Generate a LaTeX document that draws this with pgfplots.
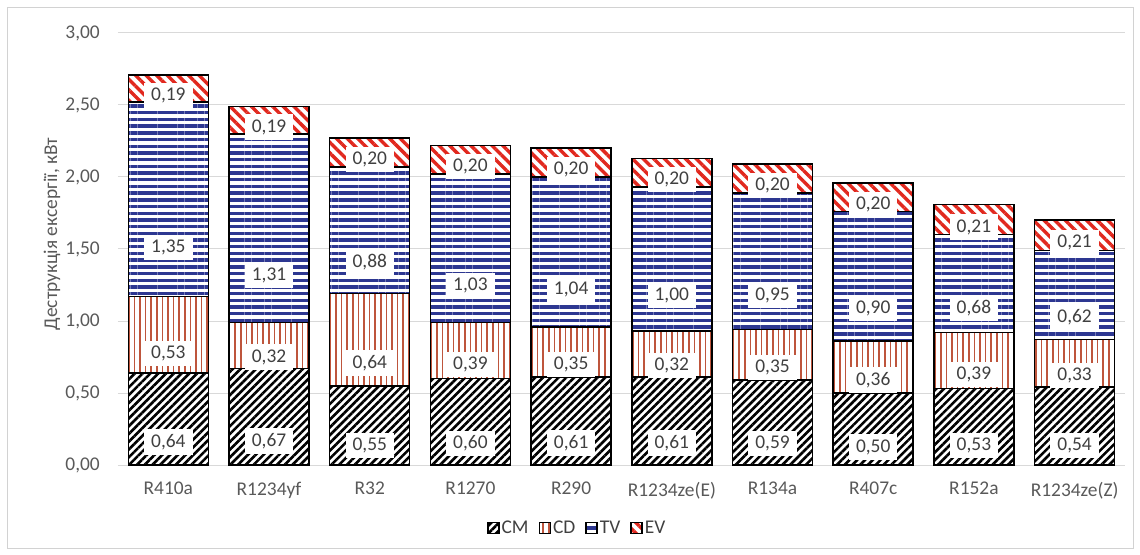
\documentclass[border=0pt]{standalone}
\usepackage{fontspec}
\setmainfont{Carlito}
\usepackage{pgfplots}
\usepackage{pgfplotstable}
\pgfplotsset{compat=1.18}
\usetikzlibrary{patterns.meta}

\definecolor{cdred}{RGB}{190,85,60}
\definecolor{tvblue}{RGB}{45,55,145}
\definecolor{evred}{RGB}{225,40,30}
\definecolor{gridgray}{RGB}{217,217,217}
\definecolor{framegray}{RGB}{210,210,210}
\definecolor{textgray}{RGB}{89,89,89}
\definecolor{labelgray}{RGB}{64,64,64}

% exergy destruction per component, kW
\pgfplotstableread{
x  cm    cd    tv    ev
0  0.64  0.53  1.35  0.19
1  0.67  0.32  1.31  0.19
2  0.55  0.64  0.88  0.20
3  0.60  0.39  1.03  0.20
4  0.61  0.35  1.04  0.20
5  0.61  0.32  1.00  0.20
6  0.59  0.35  0.95  0.20
7  0.50  0.36  0.90  0.20
8  0.53  0.39  0.68  0.21
9  0.54  0.33  0.62  0.21
}\exdata

\newcommand\chartfont{\fontsize{19.5}{22}\selectfont}

\begin{document}
\begin{tikzpicture}
\path[use as bounding box] (-118bp,-90bp) rectangle (1022bp,465bp);
\draw[framegray, line width=1bp] (-110bp,-83bp) rectangle (1015bp,457bp);
\begin{axis}[
  at={(0,0)}, anchor=south west,
  scale only axis, width=1007bp, height=432bp,
  ybar stacked, bar width=80bp,
  xmin=-0.5, xmax=9.5, ymin=0, ymax=3,
  xtick={0,...,9},
  xticklabels={R410a,R1234yf,R32,R1270,R290,R1234ze(E),R134a,R407c,R152a,R1234ze(Z)},
  ytick={0,0.5,...,3},
  ymajorgrids, grid style={gridgray, line width=1bp},
  axis line style={draw=none},
  major tick length=0pt,
  tick label style={font=\chartfont, text=textgray},
  /pgf/number format/.cd, fixed, fixed zerofill, precision=2, use comma, assume math mode=true,
  /pgfplots/.cd,
  yticklabel style={anchor=east, inner sep=0pt, xshift=-18bp},
  xticklabel style={anchor=north, inner sep=0pt, yshift=-17bp},
  ylabel={Деструкція ексергії, кВт},
  ylabel style={at={(axis description cs:-0.0655,0.535)}, anchor=center,
    font=\chartfont, text=textgray},
  legend columns=4,
  legend style={at={(0.456,-0.146)}, anchor=center, draw=none, fill=none,
    font=\chartfont, text=labelgray,
    /tikz/every even column/.append style={column sep=8bp}},
  legend image code/.code={\draw[#1, line width=1.5bp] (0bp,-5.5bp) rectangle (11bp,5.5bp);},
  point meta=rawy,
  visualization depends on={rawy \as \segval},
  nodes near coords={\pgfmathprintnumber[fixed,fixed zerofill,precision=2,use comma,assume math mode=true]{\pgfplotspointmeta}},
  every node near coord/.append style={anchor=center, yshift={-\segval*36bp},
    fill=white, inner xsep=7bp, inner ysep=5bp, text=labelgray,
    font=\chartfont},
]
\addplot[draw=black, line width=1.5bp, fill=white,
  postaction={pattern={Lines[angle=45,distance=5.5bp,line width=2.6bp]}, pattern color=black}]
  table[x=x,y=cm]{\exdata};
\addplot[draw=black, line width=1.5bp, fill=white,
  postaction={pattern={Lines[angle=90,distance=5.6bp,line width=1.5bp]}, pattern color=cdred}]
  table[x=x,y=cd]{\exdata};
\addplot[draw=black, line width=1.5bp, fill=white,
  postaction={pattern={Lines[angle=0,distance=6.7bp,line width=3.4bp]}, pattern color=tvblue}]
  table[x=x,y=tv]{\exdata};
\addplot[draw=black, line width=1.5bp, fill=white,
  postaction={pattern={Lines[angle=-45,distance=7.5bp,line width=3.4bp]}, pattern color=evred}]
  table[x=x,y=ev]{\exdata};
\legend{CM,CD,TV,EV}
\end{axis}
\end{tikzpicture}
\end{document}
